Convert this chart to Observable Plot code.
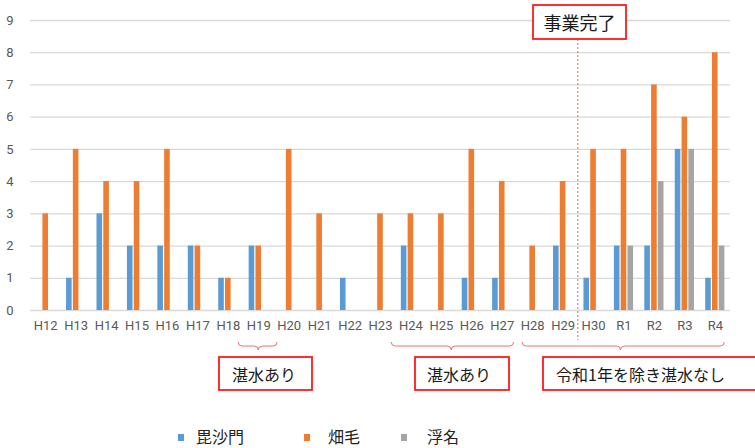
<!DOCTYPE html>
<html>
<head>
<meta charset="utf-8">
<script src="https://cdn.jsdelivr.net/npm/d3@7"></script>
<script src="https://cdn.jsdelivr.net/npm/@observablehq/plot@0.6"></script>
<style>
  body { margin: 0; background: #fff; }
  #wrap { width: 755px; position: relative; }
  #legend { position: relative; width: 755px; height: 48px; font-family: "Noto Sans CJK JP", sans-serif; font-size: 16px; color: #222; }
  #legend .sw { position: absolute; width: 6px; height: 7px; top: 34px; }
  #legend .lb { position: absolute; top: 25px; line-height: 22px; }
</style>
</head>
<body>
<div id="wrap"></div>
<div id="legend"></div>
<script>
const categories = ["H12","H13","H14","H15","H16","H17","H18","H19","H20","H21","H22","H23","H24","H25","H26","H27","H28","H29","H30","R1","R2","R3","R4"];
const seriesNames = ["毘沙門", "畑毛", "浮名"];
const bishamon = [0,1,3,2,2,2,1,2,0,0,1,0,2,0,1,1,0,2,1,2,2,5,1];
const hatake   = [3,5,4,4,5,2,1,2,5,3,0,3,3,3,5,4,2,4,5,5,7,6,8];
const ukina    = [0,0,0,0,0,0,0,0,0,0,0,0,0,0,0,0,0,0,0,2,4,5,2];
const seriesColors = ["#5B9BD5", "#ED7D31", "#A5A5A5"];
const yTicks = [0,1,2,3,4,5,6,7,8,9];

// annotations (text + span in category index units)
const completionLabel = "事業完了";
const completionBefore = "H30";
const braceSpans = [[6.34, 7.62, 7.0], [11.37, 15.39, 13.34], [15.67, 22.31, 18.9]];
const boxTexts = ["湛水あり", "湛水あり", "令和1年を除き湛水なし"];

const allSeries = [bishamon, hatake, ukina];
const rows = [];
allSeries.forEach((vals, s) => vals.forEach((v, i) => {
  if (v > 0) rows.push({cat: categories[i], series: seriesNames[s], s, value: v});
}));

const W = 755, H = 400, ML = 30, MR = 25, MT = 20, MB = 90;
const step = (W - ML - MR) / categories.length;
const barW = 5.6, offset = 6.8;
const offsets = [-offset, 0, offset];

const barMarks = seriesNames.map((name, s) => Plot.barY(rows.filter(d => d.s === s), {
  x: "cat", y: "value", fill: seriesColors[s],
  insetLeft: step / 2 + offsets[s] - barW / 2,
  insetRight: step / 2 - offsets[s] - barW / 2
}));

const chart = Plot.plot({
  width: W, height: H,
  marginLeft: ML, marginRight: MR, marginTop: MT, marginBottom: MB,
  style: {fontFamily: "Roboto, 'Noto Sans', sans-serif", fontSize: "13px", color: "#595959", background: "#fff"},
  x: {domain: categories, padding: 0, round: false, tickSize: 0, tickPadding: 10, label: null},
  y: {domain: [0, 9], ticks: yTicks, tickSize: 0, tickPadding: 17, label: null},
  marks: [
    Plot.ruleY(yTicks, {stroke: "#d9d9d9", strokeWidth: 1.3}),
    ...barMarks
  ]
});
document.getElementById("wrap").appendChild(chart);

const xs = chart.scale("x");
const ys = chart.scale("y");
const bandStart = c => (xs && xs.apply) ? xs.apply(c) : ML + categories.indexOf(c) * step;
const st = (xs && xs.step) ? xs.step : step;
const x0 = bandStart(categories[0]);
const px = i => x0 + (i + 0.5) * st;
const y0 = (ys && ys.apply) ? ys.apply(0) : H - MB;

const svg = d3.select(chart);
const g = svg.append("g");
const cjk = "'Noto Sans CJK JP', sans-serif";

// completion dashed line
const lx = bandStart(completionBefore);
g.append("line").attr("x1", lx).attr("x2", lx).attr("y1", 39).attr("y2", y0 + 30)
  .attr("stroke", "#f06060").attr("stroke-width", 1).attr("stroke-dasharray", "2,2");

// box helper
function box(x1, y1, x2, y2, text, size, tx, anchor) {
  g.append("rect").attr("x", x1).attr("y", y1).attr("width", x2 - x1).attr("height", y2 - y1)
    .attr("fill", "#fff").attr("stroke", "#ff1a1a").attr("stroke-width", 1.8);
  g.append("text").attr("x", tx).attr("y", (y1 + y2) / 2).attr("text-anchor", anchor)
    .attr("dominant-baseline", "central").attr("font-family", cjk).attr("font-size", size)
    .attr("fill", "#1a1a1a").text(text);
}
box(533, 5, 626, 39, completionLabel, 18, 579.5, "middle");

// braces
braceSpans.forEach(([a, b, m]) => {
  const xa = px(a), xb = px(b), xm = px(m);
  const yt = y0 + 32, yc = y0 + 36, yp = y0 + 40, r = 4;
  const d = `M${xa},${yt} Q${xa},${yc} ${xa + r},${yc} L${xm - r},${yc} Q${xm},${yc} ${xm},${yp} Q${xm},${yc} ${xm + r},${yc} L${xb - r},${yc} Q${xb},${yc} ${xb},${yt}`;
  g.append("path").attr("d", d).attr("fill", "none").attr("stroke", "#f07070").attr("stroke-width", 1);
});

box(219, 357, 312, 390, boxTexts[0], 16, 232, "start");
box(415, 357, 509, 390, boxTexts[1], 16, 427, "start");
box(543, 357, 760, 390, boxTexts[2], 16, 556, "start");

// legend
const leg = document.getElementById("legend");
const swX = [178, 304, 401], lbX = [196, 328, 427];
seriesNames.forEach((n, s) => {
  const sw = document.createElement("div");
  sw.className = "sw"; sw.style.left = swX[s] + "px"; sw.style.background = seriesColors[s];
  leg.appendChild(sw);
  const lb = document.createElement("div");
  lb.className = "lb"; lb.style.left = lbX[s] + "px"; lb.textContent = n;
  leg.appendChild(lb);
});
</script>
</body>
</html>
